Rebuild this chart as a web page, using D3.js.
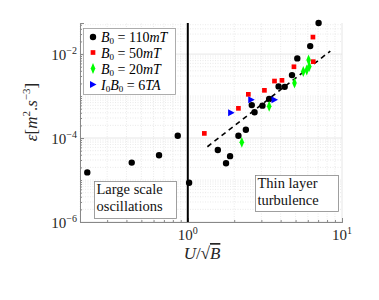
<!DOCTYPE html>
<html>
<head>
<meta charset="utf-8">
<script src="https://cdn.jsdelivr.net/npm/d3@7"></script>
<style>
  body { margin: 0; background: #fff; }
  svg { font-family: "Liberation Serif", "DejaVu Serif", serif; }
</style>
</head>
<body>
<script>
// data: [U/sqrt(B), epsilon]
const b110 = [[0.223,1.52e-5],[0.433,2.6e-5],[0.651,3.9e-5],[0.861,1.13e-4],[1.02,8.6e-6],
  [1.566,5.2e-5],[1.88,3.7e-5],[1.77,2.5e-5],[2.13,1.13e-4],[2.38,1.58e-4],[2.71,4.1e-4],
  [2.60,6.1e-4],[3.05,5.9e-4],[3.37,8.5e-4],[3.88,1.70e-3],[4.25,1.66e-3],[4.74,3.16e-3],
  [5.13,7.9e-3],[6.22,0.0155],[7.05,0.055]];
const b50 = [[1.28,1.29e-4],[2.13,5.1e-4],[2.47,1.10e-3],[3.14,1.37e-3],[3.65,2.28e-3],
  [4.08,2.37e-3],[4.88,4.99e-3],[6.51,6.6e-3],[6.48,0.0254]];
const b20 = [[2.24,7.9e-5],[3.37,5.7e-4],[4.92,2.04e-3],[5.61,3.83e-3],[5.91,4.16e-3],
  [6.13,5.03e-3],[6.07,7.2e-3]];
const i0b0 = [[1.91,4.0e-4],[2.58,8.2e-4],[3.65,8.2e-4]];
const fitLine = [[1.34,6.2e-5],[8.4,0.0118]];
const xMajor = [1, 10];
const yMajor = [1e-6, 1e-4, 1e-2];
const xExp = ["0", "1"];
const yExp = ["\u22126", "\u22124", "\u22122"];

const W = 379, H = 300;
const m = {left: 80, right: 37, top: 23, bottom: 78};

const x = d3.scaleLog().domain([0.2, 10]).range([m.left, W - m.right]);
const y = d3.scaleLog().domain([1e-6, 0.055]).range([H - m.bottom, m.top]);

const svg = d3.select("body").append("svg").attr("width", W).attr("height", H);

// minor values
const xMinor = [], yMinor = [];
for (let e = -1; e <= 0; e++) for (let k = 1; k <= 9; k++) {
  const v = k * Math.pow(10, e);
  if (v >= 0.2 && v <= 10) xMinor.push(v);
}
for (let e = -6; e <= -2; e++) for (let k = 1; k <= 9; k++) {
  const v = k * Math.pow(10, e);
  if (v >= 1e-6 && v <= 0.055) yMinor.push(v);
}

// grid
const grid = svg.append("g");
grid.selectAll(".gxm").data(xMinor.filter(v => !xMajor.includes(v))).enter().append("line")
  .attr("x1", d => x(d)).attr("x2", d => x(d)).attr("y1", y.range()[0]).attr("y2", y.range()[1])
  .attr("stroke", "#e4e4e4").attr("stroke-dasharray", "1,1.5").attr("stroke-width", 0.8);
grid.selectAll(".gym").data(yMinor.filter(v => !yMajor.includes(v))).enter().append("line")
  .attr("y1", d => y(d)).attr("y2", d => y(d)).attr("x1", x.range()[0]).attr("x2", x.range()[1])
  .attr("stroke", "#e4e4e4").attr("stroke-dasharray", "1,1.5").attr("stroke-width", 0.8);
grid.selectAll(".gxM").data(xMajor).enter().append("line")
  .attr("x1", d => x(d)).attr("x2", d => x(d)).attr("y1", y.range()[0]).attr("y2", y.range()[1])
  .attr("stroke", "#e0e0e0").attr("stroke-width", 0.8);
grid.selectAll(".gyM").data(yMajor).enter().append("line")
  .attr("y1", d => y(d)).attr("y2", d => y(d)).attr("x1", x.range()[0]).attr("x2", x.range()[1])
  .attr("stroke", "#e0e0e0").attr("stroke-width", 0.8);

// axes
const axisColor = "#888";
const gx = svg.append("g").attr("transform", `translate(0,${H - m.bottom})`)
  .call(d3.axisBottom(x).tickValues(xMinor).tickSize(-2).tickFormat(""));
const gx2 = svg.append("g").attr("transform", `translate(0,${H - m.bottom})`)
  .call(d3.axisBottom(x).tickValues(xMajor).tickSize(-4).tickFormat(""));
const gy = svg.append("g").attr("transform", `translate(${m.left},0)`)
  .call(d3.axisLeft(y).tickValues(yMinor).tickSize(-2).tickFormat(""));
const gy2 = svg.append("g").attr("transform", `translate(${m.left},0)`)
  .call(d3.axisLeft(y).tickValues(yMajor).tickSize(-4).tickFormat(""));
[gx, gx2, gy, gy2].forEach(g => {
  g.selectAll("path").attr("stroke", axisColor);
  g.selectAll("line").attr("stroke", axisColor);
});

// tick labels with exponents
const xl = svg.append("g").selectAll("text").data(xMajor).enter().append("text")
  .attr("x", d => x(d)).attr("y", H - m.bottom + 18)
  .attr("text-anchor", "middle").attr("font-size", 15).attr("fill", "#262626");
xl.append("tspan").text("10");
xl.append("tspan").attr("dy", -6).attr("font-size", 10).text((d, i) => xExp[i]);

const yl = svg.append("g").selectAll("text").data(yMajor).enter().append("text")
  .attr("x", m.left - 3).attr("y", d => y(d) + 6)
  .attr("text-anchor", "end").attr("font-size", 15).attr("fill", "#262626");
yl.append("tspan").text("10");
yl.append("tspan").attr("dy", -6).attr("font-size", 10).text((d, i) => yExp[i]);

// axis titles
const xt = svg.append("text").attr("x", 202).attr("y", 259).attr("text-anchor", "middle")
  .attr("font-size", 17).attr("fill", "#262626");
xt.append("tspan").attr("font-style", "italic").text("U");
xt.append("tspan").text("/\u221A");
xt.append("tspan").attr("font-style", "italic").attr("text-decoration", "overline").text("B");

const yt = svg.append("text").attr("transform", "translate(37,112) rotate(-90)")
  .attr("text-anchor", "middle").attr("font-size", 17).attr("fill", "#262626");
yt.append("tspan").attr("font-style", "italic").text("\u03B5");
yt.append("tspan").text("[");
yt.append("tspan").attr("font-style", "italic").text("m");
yt.append("tspan").attr("dy", -7).attr("font-size", 11).text("2");
yt.append("tspan").attr("dy", 7).text(".");
yt.append("tspan").attr("font-style", "italic").text("s");
yt.append("tspan").attr("dy", -7).attr("font-size", 11).text("\u22123");
yt.append("tspan").attr("dy", 7).text("]");

// vertical separator at U/sqrt(B) = 1
svg.append("line").attr("x1", x(1)).attr("x2", x(1))
  .attr("y1", y.range()[0]).attr("y2", y.range()[1])
  .attr("stroke", "#000").attr("stroke-width", 2);

// fit line
svg.append("path").datum(fitLine)
  .attr("d", d3.line().x(d => x(d[0])).y(d => y(d[1])))
  .attr("stroke", "#000").attr("stroke-width", 1.6).attr("stroke-dasharray", "5,4").attr("fill", "none");

// markers
const circ = d3.symbol().type(d3.symbolCircle).size(32);
const sq = d3.symbol().type(d3.symbolSquare).size(22);
const dia = d3.symbol().type(d3.symbolDiamond).size(26);
const tri = "M-3,-3.5L3.5,0L-3,3.5Z";

svg.append("g").selectAll("path").data(b110).enter().append("path")
  .attr("d", circ).attr("transform", d => `translate(${x(d[0])},${y(d[1])})`).attr("fill", "#000");
svg.append("g").selectAll("path").data(b50).enter().append("path")
  .attr("d", sq).attr("transform", d => `translate(${x(d[0])},${y(d[1])})`).attr("fill", "#ff0000");
svg.append("g").selectAll("path").data(b20).enter().append("path")
  .attr("d", dia).attr("transform", d => `translate(${x(d[0])},${y(d[1])}) scale(0.85,1.15)`).attr("fill", "#00ff00");
svg.append("g").selectAll("path").data(i0b0).enter().append("path")
  .attr("d", tri).attr("transform", d => `translate(${x(d[0])},${y(d[1])})`).attr("fill", "#0000ff");

// legend
const lg = svg.append("g");
lg.append("rect").attr("x", 83.5).attr("y", 28.5).attr("width", 92).attr("height", 66)
  .attr("fill", "#fff").attr("stroke", "#999").attr("stroke-width", 0.8);
const items = [
  {sym: circ, col: "#000", parts: [["B","i"],["0","sub"],[" = 110",""],["mT","i"]]},
  {sym: sq, col: "#ff0000", parts: [["B","i"],["0","sub"],[" = 50",""],["mT","i"]]},
  {sym: dia, col: "#00ff00", parts: [["B","i"],["0","sub"],[" = 20",""],["mT","i"]]},
  {sym: null, col: "#0000ff", parts: [["I","i"],["0","sub"],["B","i"],["0","sub"],[" = 6",""],["TA","i"]]}
];
const rowY = [37, 52.5, 68.5, 84.5];
items.forEach((it, i) => {
  const cy = rowY[i];
  lg.append("path").attr("fill", it.col)
    .attr("d", it.sym ? it.sym : tri)
    .attr("transform", `translate(93,${cy})` + (it.sym === dia ? " scale(0.85,1.15)" : ""));
  const t = lg.append("text").attr("x", 101).attr("y", cy + 5).attr("font-size", 14).attr("fill", "#000");
  let sub = false;
  it.parts.forEach(p => {
    const ts = t.append("tspan").text(p[0]);
    if (p[1] === "i") ts.attr("font-style", "italic");
    if (p[1] === "sub") { ts.attr("font-size", 9).attr("dy", 2); sub = true; }
    else if (sub) { ts.attr("dy", -2); sub = false; }
  });
});

// annotation boxes
function note(x0, y0, w, h, lines) {
  svg.append("rect").attr("x", x0).attr("y", y0).attr("width", w).attr("height", h)
    .attr("fill", "#fff").attr("stroke", "#888").attr("stroke-width", 0.8);
  lines.forEach((s, i) => {
    svg.append("text").attr("x", x0 + 2).attr("y", y0 + 12.5 + i * 17)
      .attr("font-size", 14.5).attr("fill", "#111").text(s);
  });
}
note(94.5, 181.5, 82, 37, ["Large scale", "oscillations"]);
note(255.5, 175.5, 83, 36, ["Thin layer", "turbulence"]);
</script>
</body>
</html>
